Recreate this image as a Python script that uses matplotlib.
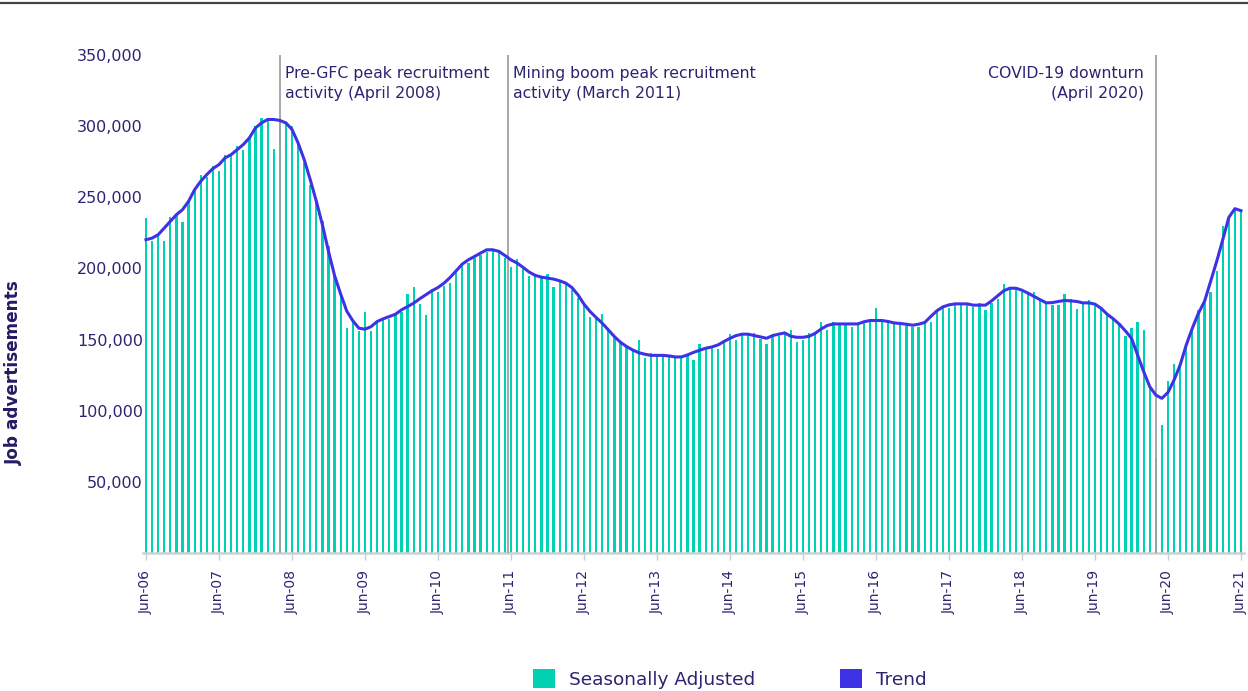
import matplotlib
matplotlib.use("Agg")
import matplotlib.pyplot as plt
from matplotlib.patches import Patch
from matplotlib.lines import Line2D

plt.rcParams['font.family'] = ['DejaVu Sans']

# ---------------- data (thousands of job advertisements, monthly Jun-06 .. Jun-21)
seasonally_adjusted = [
    235.4, 219.0, 223.2, 219.0, 236.4, 237.8, 232.6, 247.2, 256.1, 265.5,
    264.1, 271.8, 268.3, 280.0, 279.6, 285.9, 283.1, 291.8, 300.0, 305.8,
    304.7, 283.6, 303.5, 301.6, 300.0, 288.2, 274.1, 258.9, 249.5, 233.1,
    215.5, 194.4, 180.3, 158.0, 162.7, 156.1, 169.2, 156.1, 163.2, 163.9,
    164.6, 167.4, 169.2, 182.2, 187.1, 174.9, 167.4, 185.7, 183.3, 188.0,
    189.7, 199.1, 201.4, 203.8, 207.3, 209.6, 211.5, 213.1, 213.1, 207.3,
    200.7, 206.6, 199.8, 194.4, 194.8, 193.7, 196.3, 187.1, 191.3, 190.8,
    185.0, 179.1, 174.9, 166.2, 166.2, 168.3, 158.0, 151.9, 148.6, 145.1,
    142.7, 149.8, 137.3, 140.4, 139.2, 139.2, 138.0, 138.0, 137.3, 138.7,
    135.7, 147.0,
    145.1, 144.4, 143.2, 149.8, 153.8, 149.8, 153.8, 153.3, 154.4, 150.5,
    147.2, 152.8, 152.8, 155.1, 157.0, 148.6, 149.8, 154.4, 155.1, 162.7,
    157.0, 162.7, 160.3, 160.3, 158.9, 161.0, 162.7, 163.9, 172.0,
    162.7, 162.2, 160.8, 160.3, 160.3, 159.1, 158.7, 163.2, 162.7, 169.7,
    172.0, 172.5, 174.4, 174.4, 174.9, 173.2, 176.0, 170.9, 176.0, 178.7,
    188.9, 186.1, 186.1, 183.3, 182.6, 183.3, 178.0, 175.6, 174.4, 174.4,
    181.7, 178.7, 171.3, 175.6, 177.5, 173.9, 172.0, 167.4, 163.9, 160.3,
    152.6, 158.0, 162.7, 157.0, 116.2, 66.9, 89.9, 120.9, 132.9, 132.6,
    146.2, 156.8, 170.9, 175.6, 183.3, 197.9, 229.6, 236.6, 241.3, 240.6,
]
trend = [
    220.2, 221.3, 223.7, 228.4, 233.1, 237.8, 241.3, 247.2, 255.4, 261.3,
    266.0, 270.2, 273.0, 277.7, 280.0, 283.6, 287.1, 291.8, 298.8, 302.3,
    304.7, 304.7, 304.0, 302.3, 297.7, 288.2, 276.5, 262.4, 247.2, 230.7,
    212.0, 195.0, 182.0, 170.0, 163.2, 158.0, 157.3, 159.1, 162.7, 164.6,
    166.2, 167.8, 170.9, 173.2, 175.6, 178.7, 181.5, 184.3, 186.6, 189.7,
    193.7, 198.4, 203.1, 206.1, 208.4, 210.8, 213.1, 213.1, 212.0, 209.1,
    206.0, 203.8, 200.7, 197.4, 195.1, 193.9, 193.2, 192.5, 191.3, 189.7,
    186.6, 181.5, 174.9, 169.7, 165.5, 161.5, 156.8, 152.1, 148.1, 145.1,
    142.7, 140.8, 139.7, 138.9, 138.9, 138.9, 138.5, 137.8, 137.8, 139.2,
    141.0,
    142.5, 143.9, 144.8, 146.2, 148.6, 150.9, 152.8, 153.8, 153.8, 152.8,
    151.9, 150.9, 152.8, 153.8, 154.7, 152.3, 151.6, 151.6, 152.3, 154.4,
    157.5, 159.9, 161.0, 161.0, 161.0, 161.0, 161.0, 162.5, 163.4, 163.4,
    163.4, 162.7, 161.7, 161.3, 160.8, 160.1, 160.8, 162.0, 166.2, 170.2,
    173.0, 174.4, 175.1, 175.1, 175.1, 174.2, 174.2, 174.2, 177.2, 180.8,
    184.3, 186.1, 186.1, 184.7, 182.6, 180.3, 178.0, 175.8, 176.0, 176.8,
    177.5, 177.2, 176.8, 175.8, 175.8, 174.9, 172.0, 167.8, 164.6, 160.8,
    156.1, 150.9, 139.2, 127.5, 116.9, 111.0, 108.7, 112.9, 121.6, 132.2,
    146.2, 158.0, 168.5, 176.8, 190.8, 204.9, 220.2, 235.9, 242.0, 240.6,
]
tick_labels = ["Jun-06", "Jun-07", "Jun-08", "Jun-09", "Jun-10", "Jun-11",
               "Jun-12", "Jun-13", "Jun-14", "Jun-15", "Jun-16", "Jun-17",
               "Jun-18", "Jun-19", "Jun-20", "Jun-21"]
y_ticks = [50000, 100000, 150000, 200000, 250000, 300000, 350000]
# events: month offset from Jun-06, label, alignment
event_pos = [22.0, 59.5, 166.0]
event_text = ["Pre-GFC peak recruitment\nactivity (April 2008)",
              "Mining boom peak recruitment\nactivity (March 2011)",
              "COVID-19 downturn\n(April 2020)"]
event_align = ["left", "left", "right"]

assert len(seasonally_adjusted) == 181 and len(trend) == 181

TEAL = "#00D1B2"
BLUE = "#3D32E6"
NAVY = "#2B2472"
GREY = "#A0A0A0"

fig = plt.figure(figsize=(12.48, 6.91), dpi=100)
ax = fig.add_axes([143/1248, 138/691, (1244-143)/1248, (553-40)/691])

x = list(range(len(seasonally_adjusted)))
sa_vals = [v * 1000 for v in seasonally_adjusted]
tr_vals = [v * 1000 for v in trend]

ax.bar(x, sa_vals, width=0.38, color=TEAL, linewidth=0, zorder=2)
ax.plot(x, tr_vals, color=BLUE, linewidth=2.2, zorder=4, solid_joinstyle='round')

for pos, txt, al in zip(event_pos, event_text, event_align):
    ax.vlines(pos, 0, 350000, color=GREY, linewidth=1.3, zorder=3)
    dx = 0.85 if al == "left" else -1.9
    ax.text(pos + dx, 342300, txt, ha=al, va='top', fontsize=11.3, color=NAVY,
            linespacing=1.38, multialignment=al, zorder=5)

ax.set_xlim(-3/6.083, 180 + 3/6.083)
ax.set_ylim(0, (553-40)/71.14*50000)

ax.set_yticks(y_ticks)
ax.set_yticklabels([f"{v:,}" for v in y_ticks], fontsize=11.5, color=NAVY)
ax.tick_params(axis='y', length=0, pad=0)

ax.set_xticks(list(range(0, 181, 12)))
ax.set_xticklabels(tick_labels, rotation=90, fontsize=10, color=NAVY)
ax.tick_params(axis='x', length=5, width=1, color='#CCCCCC', pad=7)

for s in ['top', 'right', 'left']:
    ax.spines[s].set_visible(False)
ax.spines['bottom'].set_color('#D0D0D0')
ax.spines['bottom'].set_linewidth(1.8)

fig.text(14/1248, 0.461, "Job advertisements", rotation=90, ha='center', va='center',
         fontsize=12.2, fontweight='bold', color='#231C63')

fig.add_artist(Line2D([0, 1], [1 - 3/691, 1 - 3/691], color='#444444', linewidth=1.6))

handles = [Patch(facecolor=TEAL, edgecolor='none'), Patch(facecolor=BLUE, edgecolor='none')]
fig.legend(handles, ["Seasonally Adjusted", "Trend"], ncol=2, loc='center',
           bbox_to_anchor=(0.585, 0.0174), frameon=False, fontsize=13.3,
           handlelength=1.2, handleheight=1.2, handletextpad=0.75, columnspacing=4.6,
           labelcolor=NAVY, borderpad=0)

fig.savefig("out.png", dpi=100)
